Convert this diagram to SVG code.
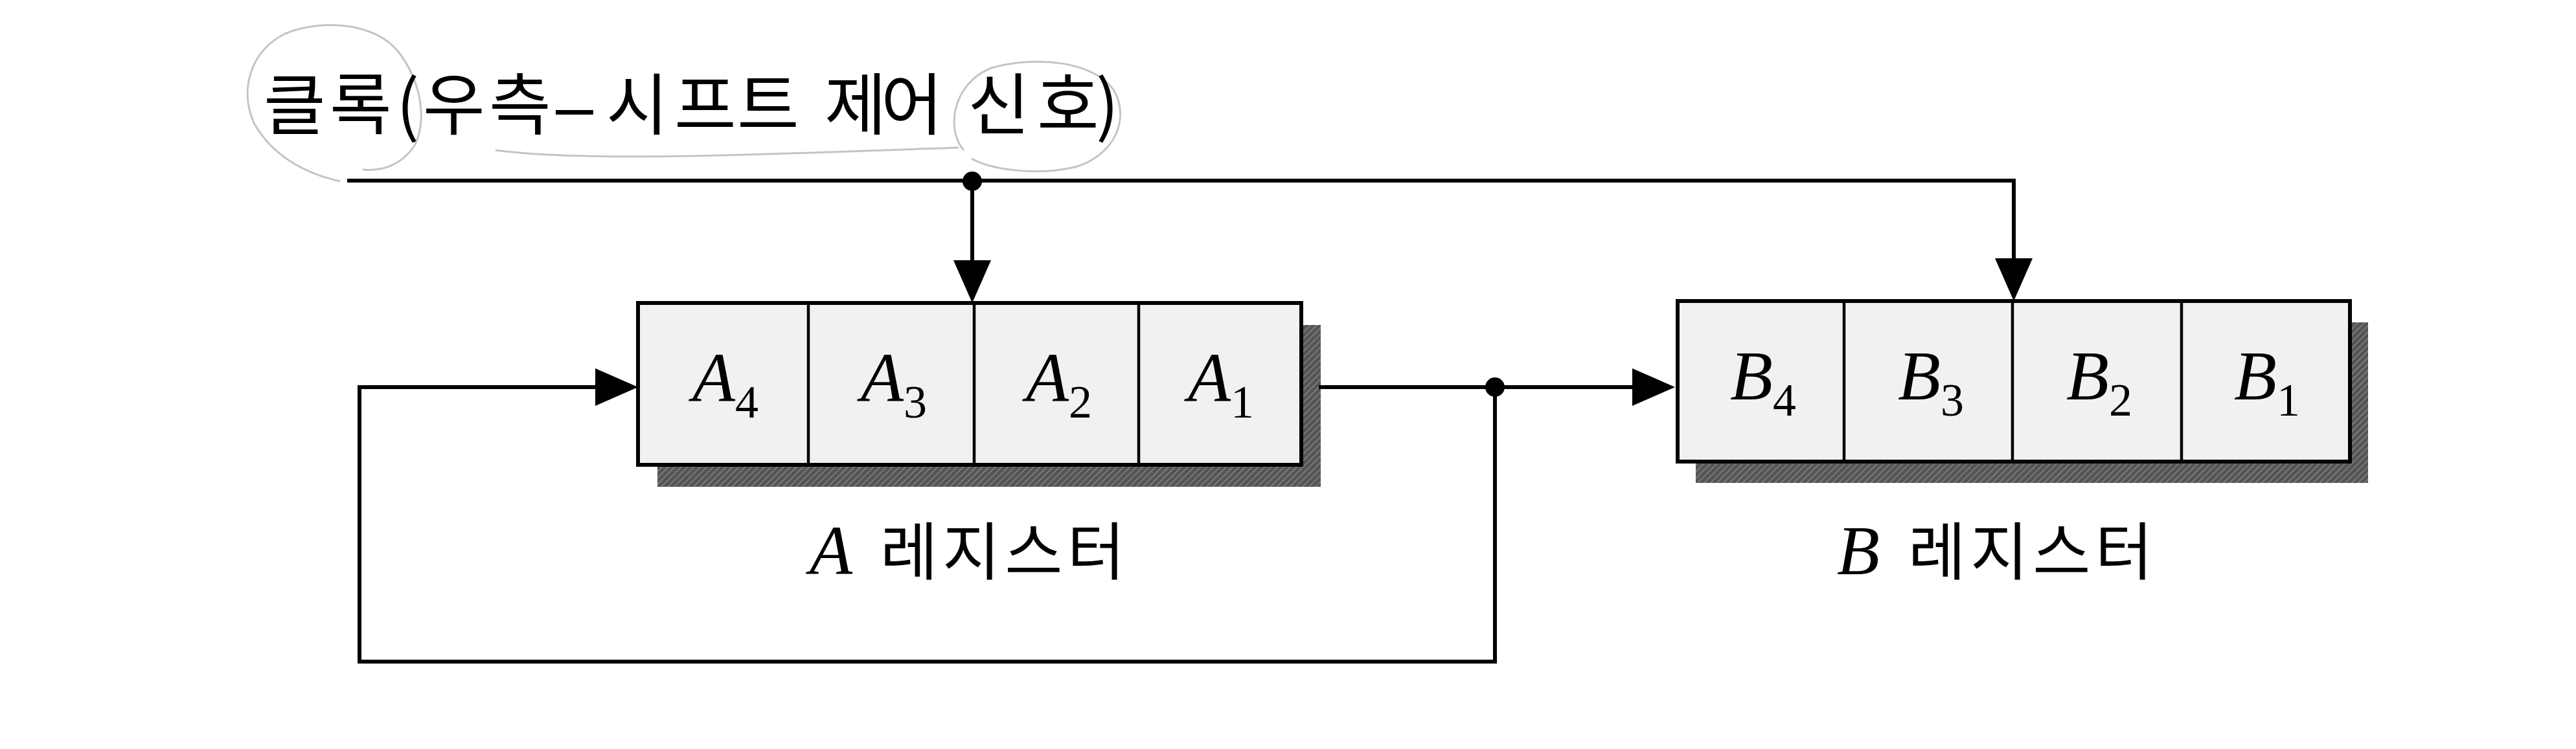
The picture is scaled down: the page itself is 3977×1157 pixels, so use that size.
<svg xmlns="http://www.w3.org/2000/svg" width="3977" height="1157" viewBox="0 0 3977 1157">
<style>
.cell{fill:#f1f1f1;stroke:#000;stroke-width:6}
.div{stroke:#000;stroke-width:4.5}
.shadow{fill:url(#hatch)}
.wire{fill:none;stroke:#000;stroke-width:6}
.dot{fill:#000}
.sym{font-family:"Liberation Serif","Times New Roman",serif;font-size:108px;text-anchor:middle;fill:#000}
.sym .v{font-style:italic}
.sym .s{font-size:72px;font-style:normal}
.lbl{font-family:"Noto Sans CJK KR","Noto Sans",sans-serif;font-size:97px;fill:#000}
.lbl .v{font-family:"Liberation Serif","Times New Roman",serif;font-style:italic;font-size:108px}
.lbl .k{letter-spacing:7px}
.title{font-family:"Noto Sans CJK KR","Noto Sans",sans-serif;font-size:104px;fill:#000}
.title .d{font-family:"Liberation Sans",Arial,sans-serif}
.pencil{fill:none;stroke:#c4c4c4;stroke-width:3}
</style>
<defs>
<pattern id="hatch" patternUnits="userSpaceOnUse" width="7" height="7" patternTransform="rotate(45)">
<rect width="7" height="7" fill="#555"/>
<line x1="0" y1="0" x2="0" y2="7" stroke="#8e8e8e" stroke-width="2.5"/>
</pattern>
<marker id="arr" viewBox="0 0 66 58" refX="0" refY="29" markerWidth="66" markerHeight="58" markerUnits="userSpaceOnUse" orient="auto">
<path d="M0,0 L66,29 L0,58 z" fill="#000"/>
</marker>
</defs>
<rect width="3977" height="1157" fill="#fff"/>

<g id="annotations">
<path class="pencil" d="M525,280 C470,268 420,240 392,190 C370,140 385,80 440,52 C500,28 580,36 615,80 C650,125 660,185 640,225 C620,255 590,265 560,262"/>
<path class="pencil" d="M1488,232 C1460,200 1470,130 1530,105 C1600,85 1690,95 1720,140 C1745,185 1720,240 1660,258 C1600,272 1530,262 1500,245"/>
<path class="pencil" d="M765,232 C900,250 1150,240 1480,228"/>
</g>

<g id="title">
<text class="title" x="407 509 612 653 755 858 936 1041 1138 1230 1273 1360 1450 1494 1601 1692" y="200">클록(우측<tspan class="d">–</tspan>시프트 제어 신호)</text>
</g>

<g id="A-register">
<rect class="shadow" x="1015" y="502" width="1024" height="250"/>
<rect class="cell" x="985" y="468" width="1024" height="250"/>
<line class="div" x1="1248" y1="468" x2="1248" y2="718"/>
<line class="div" x1="1504" y1="468" x2="1504" y2="718"/>
<line class="div" x1="1758" y1="468" x2="1758" y2="718"/>
<text class="sym" x="1120" y="620"><tspan class="v">A</tspan><tspan class="s" dy="25">4</tspan></text>
<text class="sym" x="1380" y="620"><tspan class="v">A</tspan><tspan class="s" dy="25">3</tspan></text>
<text class="sym" x="1635" y="620"><tspan class="v">A</tspan><tspan class="s" dy="25">2</tspan></text>
<text class="sym" x="1885" y="620"><tspan class="v">A</tspan><tspan class="s" dy="25">1</tspan></text>
<text class="lbl" x="1250" y="887"><tspan class="v">A</tspan><tspan class="k" dx="14"> 레지스터</tspan></text>
</g>

<g id="B-register">
<rect class="shadow" x="2618" y="498" width="1038" height="248"/>
<rect class="cell" x="2590" y="465" width="1038" height="248"/>
<line class="div" x1="2847" y1="465" x2="2847" y2="713"/>
<line class="div" x1="3107" y1="465" x2="3107" y2="713"/>
<line class="div" x1="3368" y1="465" x2="3368" y2="713"/>
<text class="sym" x="2722" y="617"><tspan class="v">B</tspan><tspan class="s" dy="25">4</tspan></text>
<text class="sym" x="2981" y="617"><tspan class="v">B</tspan><tspan class="s" dy="25">3</tspan></text>
<text class="sym" x="3241" y="617"><tspan class="v">B</tspan><tspan class="s" dy="25">2</tspan></text>
<text class="sym" x="3500" y="617"><tspan class="v">B</tspan><tspan class="s" dy="25">1</tspan></text>
<text class="lbl" x="2836" y="887"><tspan class="v">B</tspan><tspan class="k" dx="15"> 레지스터</tspan></text>
</g>

<g id="connectors">
<path class="wire" d="M536,279 H3109 V399" marker-end="url(#arr)"/>
<path class="wire" d="M1501,279 V402" marker-end="url(#arr)"/>
<path class="wire" d="M2036,598 H2520" marker-end="url(#arr)"/>
<path class="wire" d="M2308,598 V1022 H555 V598 H919" marker-end="url(#arr)"/>
<circle class="dot" cx="1501" cy="280" r="15"/>
<circle class="dot" cx="2308" cy="598" r="15"/>
</g>
</svg>
